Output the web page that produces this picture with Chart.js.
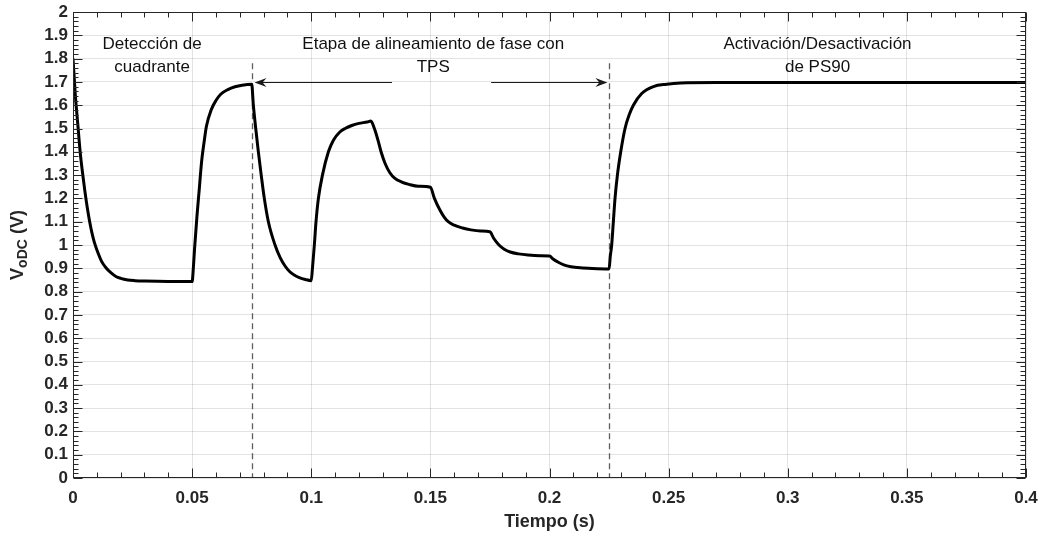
<!DOCTYPE html>
<html>
<head>
<meta charset="utf-8">
<script src="https://cdn.jsdelivr.net/npm/chart.js@4.4.1/dist/chart.umd.min.js"></script>
<style>
  html, body { margin: 0; padding: 0; background: #ffffff; }
  #wrap { width: 1041px; height: 535px; }
</style>
</head>
<body>
<div id="wrap"><canvas id="c" width="1041" height="535"></canvas></div>
<script>
// Tiempo (s) y tensión VoDC (V) medidas a lo largo de las tres etapas
const tiempo = [
  0, 0.001, 0.002, 0.003, 0.004, 0.005, 0.006, 0.007, 0.008, 0.009, 0.010,
  0.012, 0.014, 0.016, 0.018, 0.020, 0.023, 0.026, 0.030, 0.040, 0.050,
  0.0505, 0.051, 0.052, 0.053, 0.054, 0.055, 0.056, 0.058, 0.060, 0.062,
  0.065, 0.068, 0.071, 0.075,
  0.0757, 0.0767, 0.0778, 0.079, 0.0803, 0.082, 0.0848, 0.087, 0.089, 0.091,
  0.093, 0.095, 0.0975, 0.100,
  0.1005, 0.1013, 0.102, 0.103, 0.1047, 0.1072, 0.1093, 0.112, 0.1142, 0.117,
  0.120, 0.1235, 0.125,
  0.1265, 0.128, 0.1293, 0.131, 0.133, 0.135, 0.138, 0.141, 0.145, 0.150,
  0.1517, 0.154, 0.1558, 0.1575, 0.160, 0.1635, 0.167, 0.171, 0.175,
  0.1765, 0.1788, 0.181, 0.1835, 0.187, 0.191, 0.196, 0.200,
  0.2015, 0.2037, 0.206, 0.209, 0.213, 0.218, 0.225,
  0.2255, 0.2261, 0.2268, 0.2275, 0.2285, 0.2299, 0.2317, 0.2335, 0.2352,
  0.2387, 0.2436, 0.2492, 0.255, 0.270, 0.300, 0.350, 0.400
];
const vodc = [
  1.80, 1.64, 1.52, 1.40, 1.31, 1.23, 1.16, 1.10, 1.05, 1.01, 0.98,
  0.93, 0.90, 0.88, 0.865, 0.857, 0.850, 0.847, 0.845, 0.843, 0.843,
  0.90, 0.98, 1.12, 1.24, 1.36, 1.44, 1.51, 1.58, 1.62, 1.647,
  1.667, 1.679, 1.686, 1.690,
  1.60, 1.50, 1.40, 1.30, 1.20, 1.10, 1.00, 0.945, 0.91, 0.885,
  0.87, 0.86, 0.852, 0.847,
  0.90, 1.00, 1.10, 1.20, 1.30, 1.40, 1.45, 1.485, 1.50, 1.513,
  1.522, 1.528, 1.532,
  1.50, 1.45, 1.40, 1.35, 1.31, 1.287, 1.27, 1.26, 1.252, 1.248,
  1.20, 1.15, 1.12, 1.10, 1.085, 1.073, 1.065, 1.06, 1.057,
  1.03, 1.00, 0.982, 0.97, 0.962, 0.957, 0.954, 0.953,
  0.94, 0.926, 0.915, 0.907, 0.902, 0.899, 0.897,
  0.95, 1.00, 1.10, 1.20, 1.30, 1.40, 1.50, 1.56, 1.60,
  1.65, 1.68, 1.69, 1.695, 1.697, 1.697, 1.697, 1.697
];

const xTicks = [0, 0.05, 0.1, 0.15, 0.2, 0.25, 0.3, 0.35, 0.4];
const xTickLabels = ['0', '0.05', '0.1', '0.15', '0.2', '0.25', '0.3', '0.35', '0.4'];
const yTicks = [0, 0.1, 0.2, 0.3, 0.4, 0.5, 0.6, 0.7, 0.8, 0.9, 1, 1.1, 1.2, 1.3, 1.4, 1.5, 1.6, 1.7, 1.8, 1.9, 2];
const yTickLabels = ['0', '0.1', '0.2', '0.3', '0.4', '0.5', '0.6', '0.7', '0.8', '0.9', '1', '1.1', '1.2', '1.3', '1.4', '1.5', '1.6', '1.7', '1.8', '1.9', '2'];

// Límites de las etapas (líneas discontinuas) y textos descriptivos
const limitesEtapa = [0.075, 0.225];
const textosEtapa = [
  { lines: ['Detección de', 'cuadrante'], x: 0.0332 },
  { lines: ['Etapa de alineamiento de fase con', 'TPS'], x: 0.1512 },
  { lines: ['Activación/Desactivación', 'de PS90'], x: 0.3125 }
];

const AXIS = '#262626';
const FONT = '"Liberation Sans", Arial, Helvetica, sans-serif';

const decor = {
  id: 'decor',
  beforeDatasetsDraw(chart) {
    const { ctx, chartArea: a, scales: { x, y } } = chart;
    ctx.save();
    ctx.strokeStyle = '#5e5e5e';
    ctx.lineWidth = 1.3;
    ctx.setLineDash([6, 4]);
    limitesEtapa.forEach(t => {
      const px = Math.round(x.getPixelForValue(t)) + 0.5;
      ctx.beginPath();
      ctx.moveTo(px, y.getPixelForValue(1.78));
      ctx.lineTo(px, a.bottom);
      ctx.stroke();
    });
    ctx.restore();
  },
  afterDraw(chart) {
    const { ctx, chartArea: a, scales: { x, y } } = chart;
    ctx.save();
    // Marco y marcas interiores
    ctx.strokeStyle = AXIS;
    ctx.lineWidth = 1;
    ctx.setLineDash([]);
    const L = Math.round(a.left) + 0.5, R = Math.round(a.right) - 0.5;
    const T = Math.round(a.top) + 0.5, B = Math.round(a.bottom) - 0.5;
    ctx.strokeRect(L, T, R - L, B - T);
    ctx.beginPath();
    for (let i = 0; i <= 40; i++) {
      const px = Math.round(x.getPixelForValue(i * 0.01)) + 0.5;
      const len = i % 5 === 0 ? 9 : 5;
      ctx.moveTo(px, B); ctx.lineTo(px, B - len);
      ctx.moveTo(px, T); ctx.lineTo(px, T + len);
    }
    for (let i = 0; i <= 100; i++) {
      const py = Math.round(y.getPixelForValue(i * 0.02)) + 0.5;
      const len = i % 5 === 0 ? 9 : 5;
      ctx.moveTo(L, py); ctx.lineTo(L + len, py);
      ctx.moveTo(R, py); ctx.lineTo(R - len, py);
    }
    ctx.stroke();

    // Flechas de la etapa de alineamiento
    const yA = Math.round(y.getPixelForValue(1.70)) + 0.5;
    const arrow = (t0, t1) => {
      const x0 = x.getPixelForValue(t0), x1 = x.getPixelForValue(t1);
      const dir = Math.sign(x1 - x0);
      ctx.strokeStyle = '#1a1a1a';
      ctx.fillStyle = '#1a1a1a';
      ctx.lineWidth = 1;
      ctx.beginPath();
      ctx.moveTo(x0, yA); ctx.lineTo(x1 - dir * 6, yA);
      ctx.stroke();
      ctx.beginPath();
      ctx.moveTo(x1, yA);
      ctx.lineTo(x1 - dir * 12, yA - 4.5);
      ctx.lineTo(x1 - dir * 8, yA);
      ctx.lineTo(x1 - dir * 12, yA + 4.5);
      ctx.closePath();
      ctx.fill();
    };
    arrow(0.1339, 0.0762);
    arrow(0.1755, 0.2243);

    // Textos de las etapas
    ctx.fillStyle = '#111111';
    ctx.font = '17px ' + FONT;
    ctx.textAlign = 'center';
    ctx.textBaseline = 'middle';
    textosEtapa.forEach(e => {
      const px = x.getPixelForValue(e.x);
      ctx.fillText(e.lines[0], px, y.getPixelForValue(1.86));
      ctx.fillText(e.lines[1], px, y.getPixelForValue(1.762));
    });

    // Título del eje X
    ctx.fillStyle = AXIS;
    ctx.font = 'bold 18px ' + FONT;
    ctx.fillText('Tiempo (s)', (a.left + a.right) / 2, 522);

    // Título del eje Y con subíndice
    ctx.translate(18, (a.top + a.bottom) / 2);
    ctx.rotate(-Math.PI / 2);
    const big = 'bold 18px ' + FONT, small = 'bold 14px ' + FONT;
    ctx.font = big; const wV = ctx.measureText('V').width;
    ctx.font = small; const wS = ctx.measureText('oDC').width;
    ctx.font = big; const wU = ctx.measureText(' (V)').width;
    let cx = -(wV + wS + wU) / 2;
    ctx.textAlign = 'left';
    ctx.font = big; ctx.fillText('V', cx, 0); cx += wV;
    ctx.font = small; ctx.fillText('oDC', cx, 5); cx += wS;
    ctx.font = big; ctx.fillText(' (V)', cx, 0);
    ctx.restore();
  }
};

new Chart(document.getElementById('c'), {
  type: 'line',
  data: {
    datasets: [{
      data: tiempo.map((t, i) => ({ x: t, y: vodc[i] })),
      borderColor: '#000000',
      borderWidth: 3,
      pointRadius: 0,
      cubicInterpolationMode: 'monotone',
      fill: false
    }]
  },
  plugins: [decor],
  options: {
    responsive: false,
    animation: false,
    events: [],
    layout: { padding: { left: 0, top: 12, right: 15, bottom: 0 } },
    plugins: { legend: { display: false }, tooltip: { enabled: false } },
    scales: {
      x: {
        type: 'linear', min: 0, max: 0.4,
        afterBuildTicks: s => { s.ticks = xTicks.map(v => ({ value: v })); },
        afterFit: s => { s.height = 57; s.paddingLeft = 0; s.paddingRight = 0; },
        border: { display: false },
        grid: { color: 'rgba(38,38,38,0.13)', lineWidth: 1, drawTicks: false },
        ticks: {
          padding: 10, color: AXIS, maxRotation: 0, autoSkip: false,
          font: { family: FONT, size: 17, weight: 'bold' },
          callback: (v, i) => xTickLabels[i]
        }
      },
      y: {
        type: 'linear', min: 0, max: 2,
        afterBuildTicks: s => { s.ticks = yTicks.map(v => ({ value: v })); },
        afterFit: s => { s.width = 73; s.paddingTop = 0; s.paddingBottom = 0; },
        border: { display: false },
        grid: { color: 'rgba(38,38,38,0.13)', lineWidth: 1, drawTicks: false },
        ticks: {
          padding: 5, color: AXIS, autoSkip: false,
          font: { family: FONT, size: 17, weight: 'bold' },
          callback: (v, i) => yTickLabels[i]
        }
      }
    }
  }
});
</script>
</body>
</html>
